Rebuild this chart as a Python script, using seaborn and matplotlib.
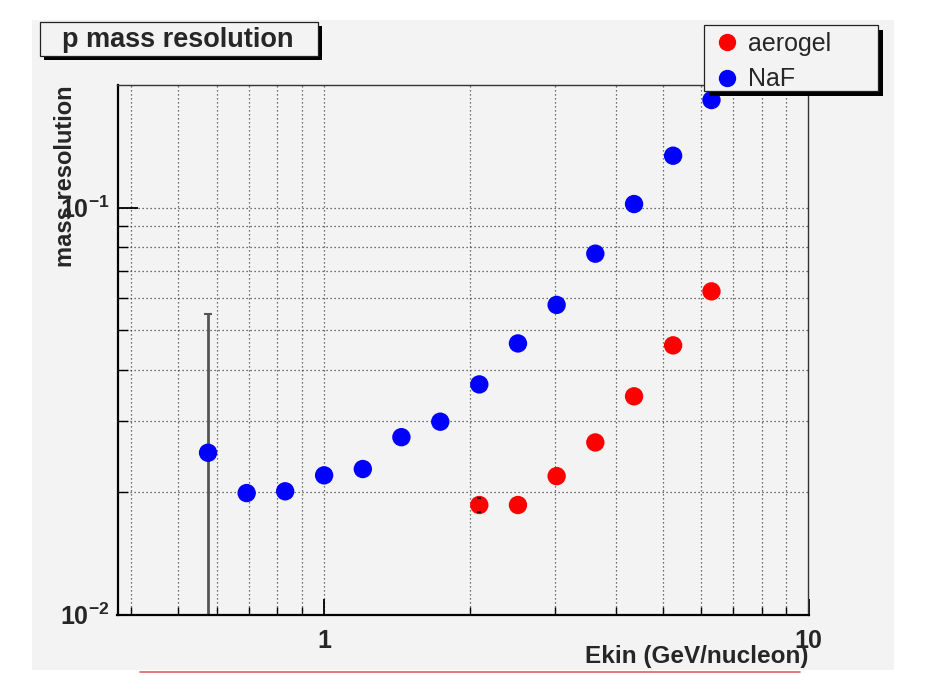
import matplotlib
matplotlib.use("Agg")
import matplotlib.pyplot as plt
import seaborn as sns
import pandas as pd
from matplotlib.patches import Rectangle
from matplotlib.lines import Line2D
from matplotlib.ticker import FixedLocator, NullFormatter, FixedFormatter

# ---------------- data ----------------
naf_ekin = [0.576, 0.692, 0.831, 1.000, 1.202, 1.444, 1.737, 2.091, 2.513,
            3.020, 3.630, 4.364, 5.254, 6.305]
naf_res = [0.0250, 0.0199, 0.0201, 0.0220, 0.0228, 0.0273, 0.0298, 0.0368,
           0.0464, 0.0577, 0.0771, 0.1021, 0.1342, 0.1839]
naf_err_low = [0.0220, 0, 0, 0, 0, 0, 0, 0, 0, 0, 0, 0, 0, 0]
naf_err_high = [0.0298, 0, 0, 0, 0, 0, 0, 0, 0, 0, 0, 0, 0, 0]

aero_ekin = [2.091, 2.513, 3.020, 3.630, 4.364, 5.254, 6.305]
aero_res = [0.0186, 0.0186, 0.0219, 0.0265, 0.0344, 0.0459, 0.0623]
aero_err = [0.0007, 0, 0, 0, 0, 0, 0]

series_names = ["aerogel", "NaF"]
series_colors = ["#ff0000", "#0000ff"]
x_tick_values = [1, 10]
x_tick_labels = ["1", "10"]
y_tick_values = [0.01, 0.1]
y_tick_labels = [r"$10^{-2}$", r"$10^{-1}$"]

title_text = "p mass resolution"
x_label = "Ekin (GeV/nucleon)"
y_label = "mass resolution"

# ---------------- style ----------------
sns.set_style("ticks")
plt.rcParams["font.family"] = ["Liberation Sans", "DejaVu Sans"]
plt.rcParams["mathtext.fontset"] = "custom"
plt.rcParams["mathtext.rm"] = "Liberation Sans:bold"
plt.rcParams["mathtext.it"] = "Liberation Sans:bold"
plt.rcParams["mathtext.bf"] = "Liberation Sans:bold"
plt.rcParams["mathtext.default"] = "rm"

W, H = 929, 674
BG = "#f3f3f3"
fig = plt.figure(figsize=(W / 100, H / 100), dpi=100, facecolor="white")


def fx(px):
    return px / W


def fy(py):
    return 1 - py / H


# canvas background
fig.patches.append(Rectangle((fx(32), fy(670)), fx(894) - fx(32), fy(20) - fy(670),
                             transform=fig.transFigure, facecolor=BG,
                             edgecolor="none", zorder=-20))
# thin red line at the very bottom
fig.lines.append(Line2D([fx(140), fx(800)], [fy(671.5), fy(671.5)],
                        transform=fig.transFigure, color="#e06060", lw=1.2))

ax_l, ax_r, ax_t, ax_b = 117.5, 808.5, 85.2, 614.7
ax = fig.add_axes([fx(ax_l), fy(ax_b), fx(ax_r) - fx(ax_l), fy(ax_t) - fy(ax_b)])
ax.set_facecolor(BG)

df = pd.DataFrame({
    "Ekin": aero_ekin + naf_ekin,
    "res": aero_res + naf_res,
    "detector": [series_names[0]] * len(aero_ekin) + [series_names[1]] * len(naf_ekin),
})

ax.set_xscale("log")
ax.set_yscale("log")

# error bars (only where an error is visible)
ni = [i for i in range(len(naf_ekin)) if naf_err_low[i] > 0 or naf_err_high[i] > 0]
ax.errorbar([naf_ekin[i] for i in ni], [naf_res[i] for i in ni],
            yerr=[[naf_err_low[i] for i in ni], [naf_err_high[i] for i in ni]],
            fmt="none", ecolor="#555555", elinewidth=2.0, capsize=3, capthick=1.5,
            zorder=2)

sns.scatterplot(data=df, x="Ekin", y="res", hue="detector",
                palette=dict(zip(series_names, series_colors)),
                s=175, edgecolor="none", linewidth=0, legend=False, ax=ax, zorder=3)

ai = [i for i in range(len(aero_ekin)) if aero_err[i] > 0]
ax.errorbar([aero_ekin[i] for i in ai], [aero_res[i] for i in ai],
            yerr=[aero_err[i] for i in ai], fmt="none", ecolor="black",
            elinewidth=0, capsize=1.5, capthick=1.2, zorder=4)

ax.set_xlim(0.3745, 10)
ax.set_ylim(0.01, 0.2)

# ticks
ax.xaxis.set_major_locator(FixedLocator(x_tick_values))
ax.xaxis.set_major_formatter(FixedFormatter(x_tick_labels))
ax.xaxis.set_minor_locator(FixedLocator([0.4, 0.5, 0.6, 0.7, 0.8, 0.9,
                                         2, 3, 4, 5, 6, 7, 8, 9]))
ax.xaxis.set_minor_formatter(NullFormatter())
ax.yaxis.set_major_locator(FixedLocator(y_tick_values))
ax.yaxis.set_major_formatter(FixedFormatter(y_tick_labels))
ax.yaxis.set_minor_locator(FixedLocator([0.02, 0.03, 0.04, 0.05, 0.06, 0.07, 0.08, 0.09]))
ax.yaxis.set_minor_formatter(NullFormatter())

ax.tick_params(axis="x", which="major", direction="in", length=11.5, width=1.3,
               pad=10, labelsize=18, top=False, color="black")
ax.tick_params(axis="x", which="minor", direction="in", length=5.8, width=1.0,
               top=False, color="black")
ax.tick_params(axis="y", which="major", direction="in", length=14.4, width=1.3,
               pad=6, labelsize=18, right=False, color="black")
ax.tick_params(axis="y", which="minor", direction="in", length=7.2, width=1.0,
               right=False, color="black")
for lab in ax.get_xticklabels() + ax.get_yticklabels():
    lab.set_fontweight("bold")

ax.grid(which="both", axis="both", color="#444444", linestyle=(0, (1, 2.2)),
        linewidth=0.9)
ax.set_axisbelow(True)

for side in ["left", "bottom"]:
    ax.spines[side].set_linewidth(1.6)
    ax.spines[side].set_color("black")
for side in ["top", "right"]:
    ax.spines[side].set_linewidth(1.0)
    ax.spines[side].set_color("#333333")

# axis labels
ax.set_xlabel(x_label, fontsize=17.5, fontweight="bold", loc="right")
ax.xaxis.label.set_va("center")
ax.xaxis.set_label_coords(1.0, -(657 - ax_b) / (ax_b - ax_t))
ax.set_ylabel(y_label, fontsize=17, fontweight="bold", loc="top")
ax.yaxis.label.set_va("center")
ax.yaxis.set_label_coords(-(ax_l - 65) / (ax_r - ax_l), 1.0)


# boxes with shadow
def box(x0, y0, x1, y1, sh):
    fig.patches.append(Rectangle((fx(x0 + sh), fy(y1 + sh)), fx(x1) - fx(x0),
                                 fy(y0) - fy(y1), transform=fig.transFigure,
                                 facecolor="black", edgecolor="none", zorder=5))
    fig.patches.append(Rectangle((fx(x0), fy(y1)), fx(x1) - fx(x0),
                                 fy(y0) - fy(y1), transform=fig.transFigure,
                                 facecolor=BG, edgecolor="#222222", lw=0.9, zorder=6))


box(40, 22, 318, 56, 4)
fig.text(fx(178), fy(40), title_text, ha="center", va="center", fontsize=19.5,
         fontweight="bold", zorder=7)

box(704, 25, 878, 91, 5)
handles = [Line2D([], [], linestyle="none", marker="o", markersize=12.5,
                  markerfacecolor=c, markeredgecolor="none")
           for c in series_colors]
leg = fig.legend(handles, series_names, loc="upper left",
                 bbox_to_anchor=(fx(714), fy(32)), bbox_transform=fig.transFigure,
                 frameon=False, borderpad=0, handlelength=1.0, handletextpad=0.35,
                 labelspacing=0.45, fontsize=18, borderaxespad=0)
leg.set_zorder(8)

fig.savefig("out.png", dpi=100, facecolor="white")
